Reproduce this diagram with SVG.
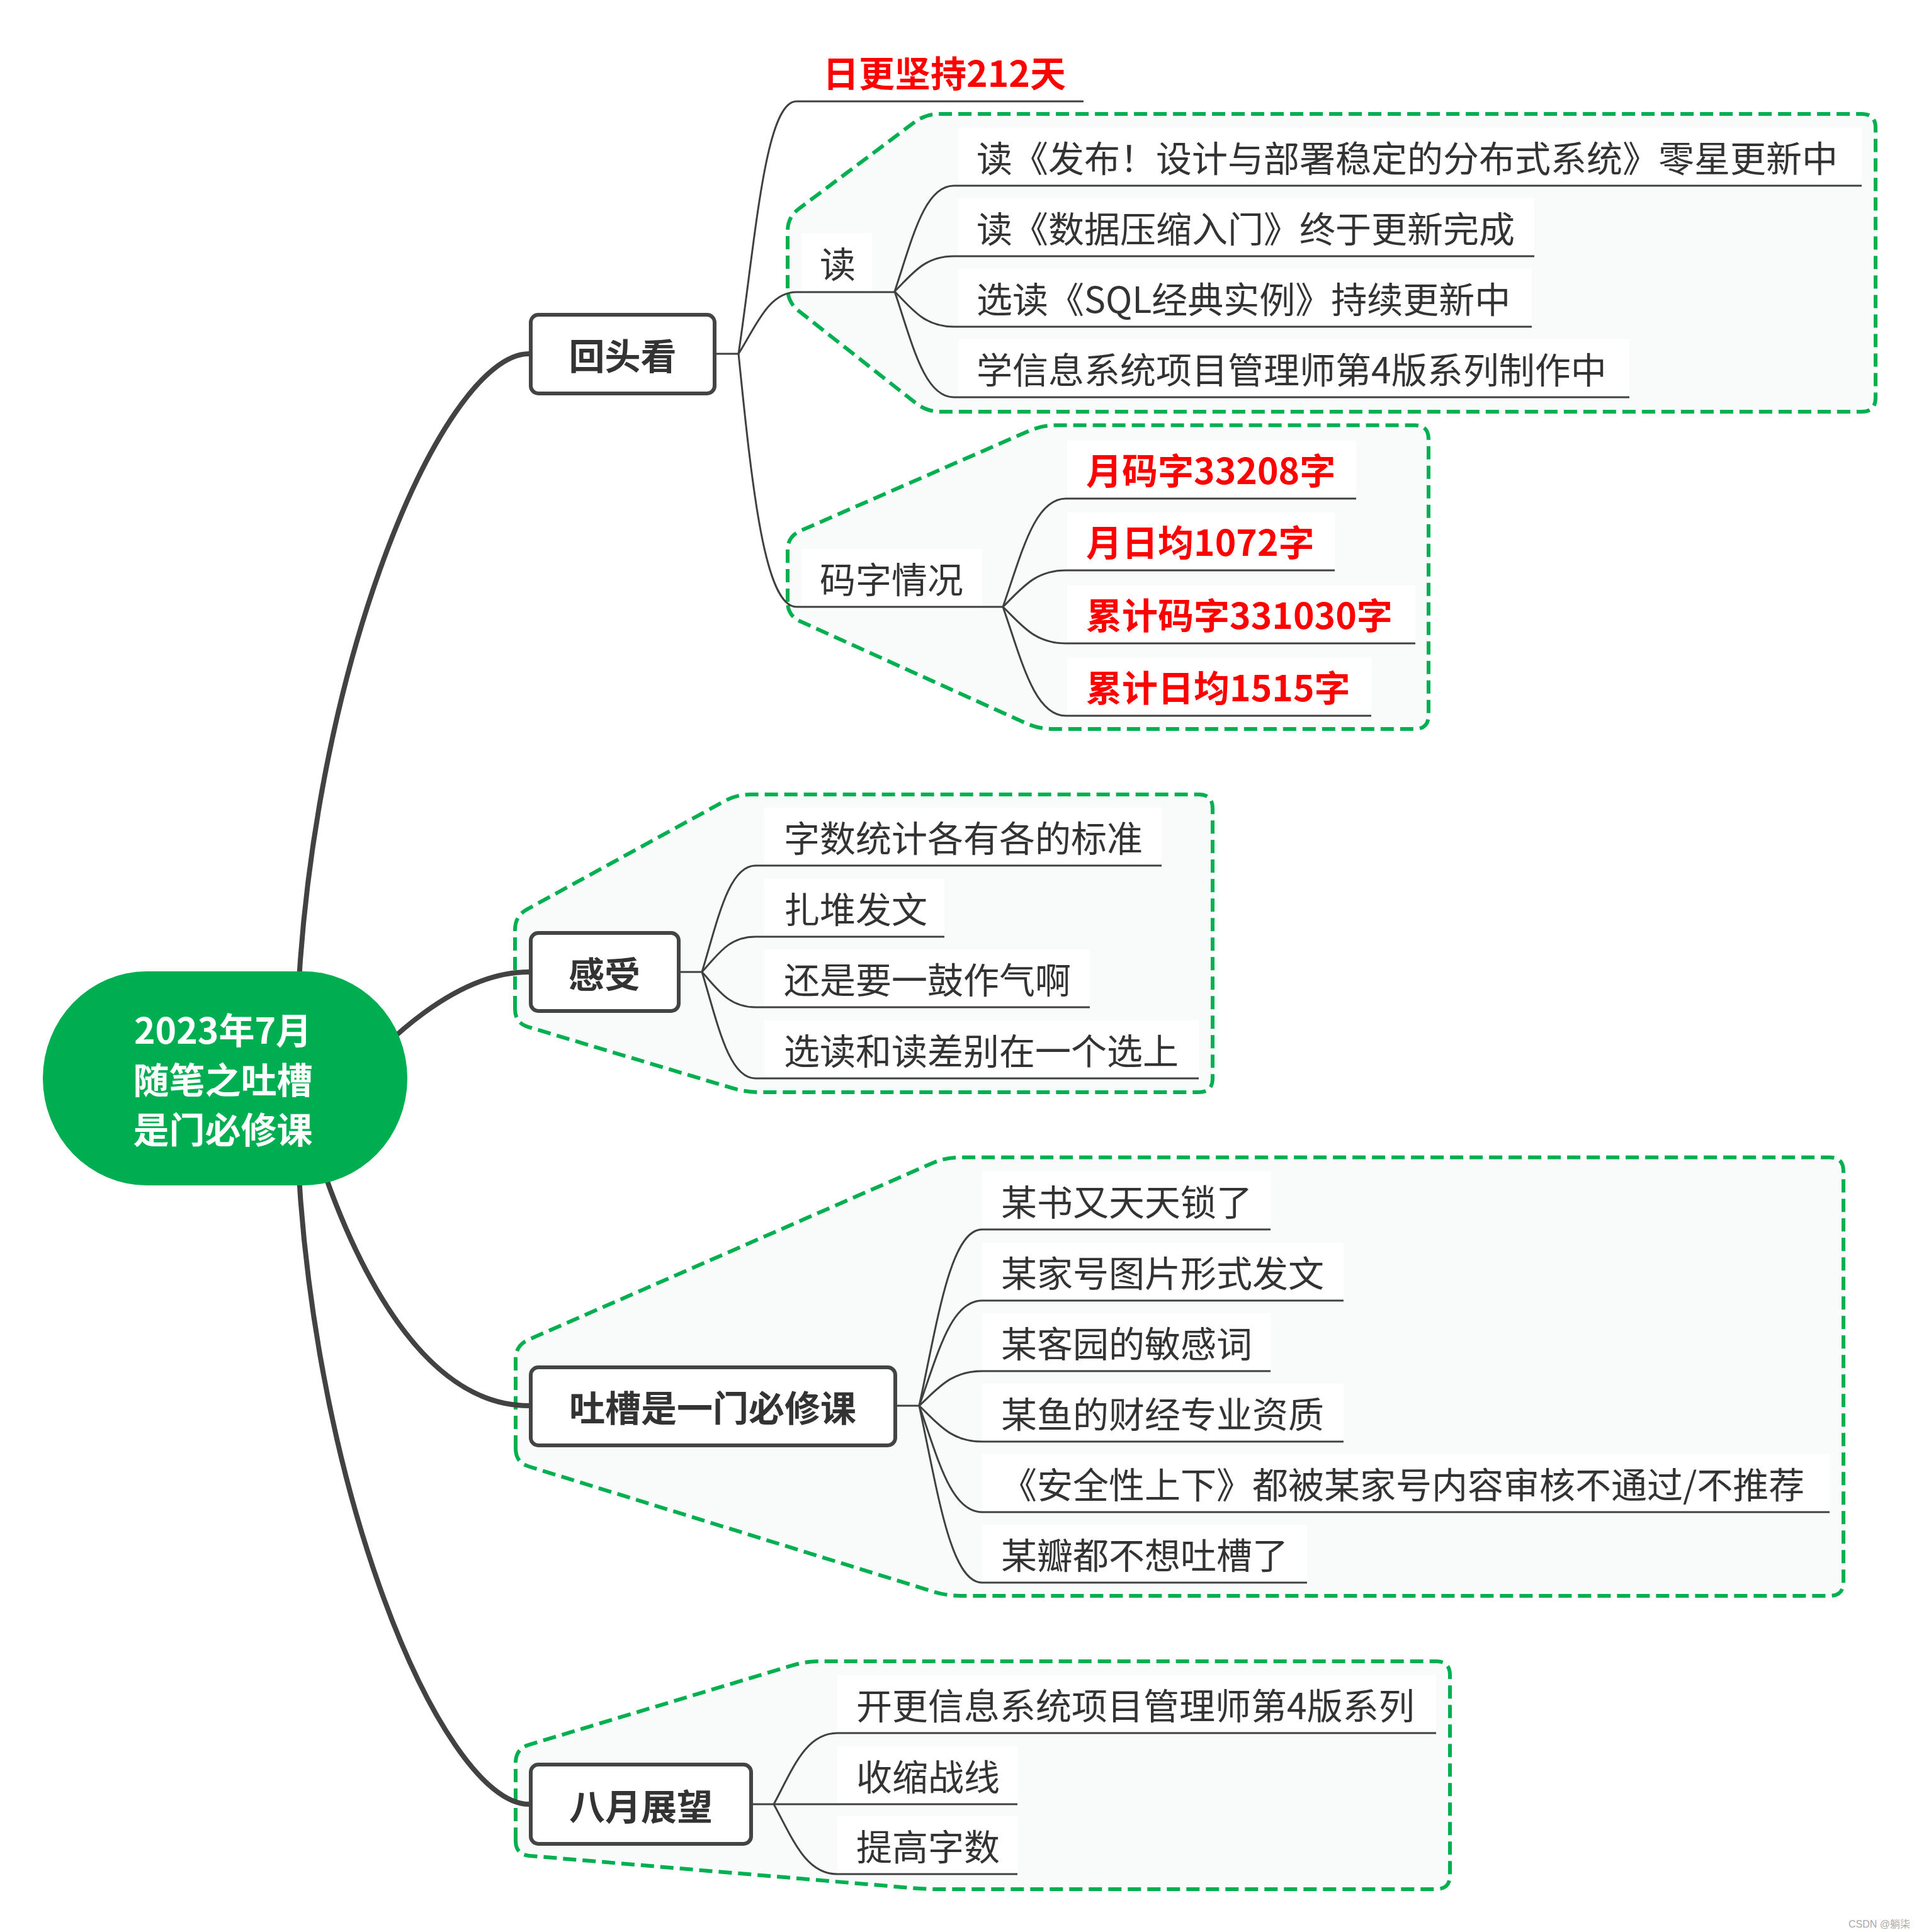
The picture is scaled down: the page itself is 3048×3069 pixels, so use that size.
<svg xmlns="http://www.w3.org/2000/svg" width="3048" height="3069" viewBox="0 0 3048 3069">
<style>
.t{font-family:"Noto Sans CJK SC","Noto Sans",sans-serif;font-size:57px;fill:#333333}
.b{font-weight:bold}
.red{fill:#ff0000;font-weight:bold}
.w{fill:#ffffff;font-weight:bold}
.bg{fill:#ffffff}
.box{fill:#ffffff;stroke:#444444;stroke-width:6}
.bound{fill:#f8fbfa;stroke:#00b050;stroke-width:6;stroke-dasharray:21 10}
.sub{fill:none;stroke:#404040;stroke-width:3}
.main{fill:none;stroke:#424242;stroke-width:8}
.mark{font-family:"Liberation Sans","Noto Sans CJK SC",sans-serif;font-size:16px;fill:#aaaaaa}
</style>
<rect width="3048" height="3069" fill="#ffffff"/>
<g id="boundaries">
<path class="bound" d="M 1251 458 L 1251 367 Q 1251 345 1268.6 331.8 L 1452.4 194.2 Q 1470 181 1492 181 L 2957 181 Q 2979 181 2979 203 L 2979 632 Q 2979 654 2957 654 L 1494 654 Q 1472 654 1454.7 640.4 L 1268.3 493.6 Q 1251 480 1251 458 Z"/>
<path class="bound" d="M 1251 956 L 1251 874 Q 1251 852 1271.2 843.2 L 1634.8 684.3 Q 1655 675.5 1677 675.5 L 2247 675.5 Q 2269 675.5 2269 697.5 L 2269 1136 Q 2269 1158 2247 1158 L 1672 1158 Q 1650 1158 1629.9 1149 L 1271.1 987 Q 1251 978 1251 956 Z"/>
<path class="bound" d="M 818 1603 L 818 1477 Q 818 1455 837.3 1444.4 L 1150.7 1272.6 Q 1170 1262 1192 1262 L 1904 1262 Q 1926 1262 1926 1284 L 1926 1713 Q 1926 1735 1904 1735 L 1207 1735 Q 1185 1735 1163.9 1728.7 L 839.1 1631.3 Q 818 1625 818 1603 Z"/>
<path class="bound" d="M 819 2301 L 819 2159 Q 819 2137 839.2 2128.2 L 1481.8 1847.3 Q 1502 1838.5 1524 1838.5 L 2906 1838.5 Q 2928 1838.5 2928 1860.5 L 2928 2513 Q 2928 2535 2906 2535 L 1526 2535 Q 1504 2535 1483 2528.5 L 840 2329.5 Q 819 2323 819 2301 Z"/>
<path class="bound" d="M 819 2924 L 819 2800 Q 819 2778 840.1 2771.6 L 1258.9 2645.4 Q 1280 2639 1302 2639 L 2281 2639 Q 2303 2639 2303 2661 L 2303 2979 Q 2303 3001 2281 3001 L 1492 3001 Q 1470 3001 1448.1 2999.1 L 840.9 2947.9 Q 819 2946 819 2924 Z"/>
</g>
<g id="n-rigeng"><text class="t red" x="1307" y="138">日更坚持212天</text></g>
<g id="n-du"><rect class="bg" x="1273" y="371" width="112" height="92"/><text class="t" x="1302" y="441">读</text></g>
<g id="n-du1"><rect class="bg" x="1522" y="203" width="1435" height="92"/><text class="t" x="1551" y="273">读《发布！设计与部署稳定的分布式系统》零星更新中</text></g>
<g id="n-du2"><rect class="bg" x="1522" y="315" width="915" height="92"/><text class="t" x="1551" y="385">读《数据压缩入门》终于更新完成</text></g>
<g id="n-du3"><rect class="bg" x="1522" y="427" width="911" height="92"/><text class="t" x="1551" y="497">选读《SQL经典实例》持续更新中</text></g>
<g id="n-du4"><rect class="bg" x="1522" y="539" width="1066" height="92"/><text class="t" x="1551" y="609">学信息系统项目管理师第4版系列制作中</text></g>
<g id="n-mazi"><rect class="bg" x="1273" y="872" width="287" height="92"/><text class="t" x="1302" y="942">码字情况</text></g>
<g id="n-mazi1"><rect class="bg" x="1695" y="700" width="459" height="92"/><text class="t red" x="1725" y="769">月码字33208字</text></g>
<g id="n-mazi2"><rect class="bg" x="1695" y="814" width="425" height="92"/><text class="t red" x="1725" y="883">月日均1072字</text></g>
<g id="n-mazi3"><rect class="bg" x="1695" y="930" width="553" height="92"/><text class="t red" x="1725" y="999">累计码字331030字</text></g>
<g id="n-mazi4"><rect class="bg" x="1695" y="1045" width="483" height="92"/><text class="t red" x="1725" y="1114">累计日均1515字</text></g>
<g id="n-gs1"><rect class="bg" x="1214" y="1283" width="631" height="92"/><text class="t" x="1245" y="1353">字数统计各有各的标准</text></g>
<g id="n-gs2"><rect class="bg" x="1214" y="1396" width="286" height="92"/><text class="t" x="1245" y="1466">扎堆发文</text></g>
<g id="n-gs3"><rect class="bg" x="1214" y="1508" width="517" height="92"/><text class="t" x="1245" y="1578">还是要一鼓作气啊</text></g>
<g id="n-gs4"><rect class="bg" x="1214" y="1621" width="690" height="92"/><text class="t" x="1245" y="1691">选读和读差别在一个选上</text></g>
<g id="n-tc1"><rect class="bg" x="1560" y="1861" width="458" height="92"/><text class="t" x="1590" y="1931">某书又天天锁了</text></g>
<g id="n-tc2"><rect class="bg" x="1560" y="1974" width="574" height="92"/><text class="t" x="1590" y="2044">某家号图片形式发文</text></g>
<g id="n-tc3"><rect class="bg" x="1560" y="2086" width="458" height="92"/><text class="t" x="1590" y="2156">某客园的敏感词</text></g>
<g id="n-tc4"><rect class="bg" x="1560" y="2198" width="574" height="92"/><text class="t" x="1590" y="2268">某鱼的财经专业资质</text></g>
<g id="n-tc5"><rect class="bg" x="1560" y="2310" width="1346" height="92"/><text class="t" x="1590" y="2380">《安全性上下》都被某家号内容审核不通过/不推荐</text></g>
<g id="n-tc6"><rect class="bg" x="1560" y="2422" width="516" height="92"/><text class="t" x="1590" y="2492">某瓣都不想吐槽了</text></g>
<g id="n-by1"><rect class="bg" x="1330" y="2661" width="951" height="92"/><text class="t" x="1360" y="2731">开更信息系统项目管理师第4版系列</text></g>
<g id="n-by2"><rect class="bg" x="1330" y="2774" width="286" height="92"/><text class="t" x="1360" y="2844">收缩战线</text></g>
<g id="n-by3"><rect class="bg" x="1330" y="2885" width="286" height="92"/><text class="t" x="1360" y="2955">提高字数</text></g>
<g id="connectors">
<path class="main" d="M 470 1713 C 470 1100, 700 562, 840 562"/>
<path class="main" d="M 560 1713 C 610 1660, 720 1544, 840 1544"/>
<path class="main" d="M 470 1713 C 530 1950, 650 2233, 840 2233"/>
<path class="main" d="M 470 1713 C 470 2326, 700 2866, 840 2866"/>
<path class="sub" d="M 1138 562 H 1173"/>
<path class="sub" d="M 1173 562 C 1200 380, 1215 161, 1265 161 H 1721"/>
<path class="sub" d="M 1173 562 C 1200 520, 1220 464, 1265 464 H 1421"/>
<path class="sub" d="M 1173 562 C 1195 780, 1215 964, 1265 964 H 1593"/>
<path class="sub" d="M 1421 463 C 1449.2 379, 1468 295, 1515 295 H 2957"/>
<path class="sub" d="M 1421 463 C 1449.2 435, 1468 407, 1515 407 H 2437"/>
<path class="sub" d="M 1421 463 C 1449.2 491, 1468 519, 1515 519 H 2433"/>
<path class="sub" d="M 1421 463 C 1449.2 547, 1468 631, 1515 631 H 2588"/>
<path class="sub" d="M 1593 964 C 1623 878, 1643 792, 1693 792 H 2154"/>
<path class="sub" d="M 1593 964 C 1623 935, 1643 906, 1693 906 H 2120"/>
<path class="sub" d="M 1593 964 C 1623 993, 1643 1022, 1693 1022 H 2248"/>
<path class="sub" d="M 1593 964 C 1623 1050.5, 1643 1137, 1693 1137 H 2178"/>
<path class="sub" d="M 1081 1544 H 1115"/>
<path class="sub" d="M 1115 1544 C 1140.5 1459.5, 1157.5 1375, 1200 1375 H 1845"/>
<path class="sub" d="M 1115 1544 C 1140.5 1516, 1157.5 1488, 1200 1488 H 1500"/>
<path class="sub" d="M 1115 1544 C 1140.5 1572, 1157.5 1600, 1200 1600 H 1731"/>
<path class="sub" d="M 1115 1544 C 1140.5 1628.5, 1157.5 1713, 1200 1713 H 1904"/>
<path class="sub" d="M 1425 2233 H 1460"/>
<path class="sub" d="M 1460 2233 C 1490 2093, 1510 1953, 1560 1953 H 2018"/>
<path class="sub" d="M 1460 2233 C 1490 2149.5, 1510 2066, 1560 2066 H 2134"/>
<path class="sub" d="M 1460 2233 C 1490 2205.5, 1510 2178, 1560 2178 H 2018"/>
<path class="sub" d="M 1460 2233 C 1490 2261.5, 1510 2290, 1560 2290 H 2134"/>
<path class="sub" d="M 1460 2233 C 1490 2317.5, 1510 2402, 1560 2402 H 2906"/>
<path class="sub" d="M 1460 2233 C 1490 2373.5, 1510 2514, 1560 2514 H 2076"/>
<path class="sub" d="M 1196 2866 H 1229"/>
<path class="sub" d="M 1229 2866 C 1259.3 2809.5, 1279.5 2753, 1330 2753 H 2281"/>
<path class="sub" d="M 1229 2866 H 1616"/>
<path class="sub" d="M 1229 2866 C 1259.3 2921.5, 1279.5 2977, 1330 2977 H 1616"/>
</g>
<g id="n-huitoukan"><rect class="box" x="843" y="500" width="292" height="125" rx="12"/><text class="t b" x="989" y="587" text-anchor="middle">回头看</text></g>
<g id="n-ganshou"><rect class="box" x="843" y="1482" width="235" height="124" rx="12"/><text class="t b" x="960" y="1569" text-anchor="middle">感受</text></g>
<g id="n-tucao"><rect class="box" x="843" y="2172" width="579" height="124" rx="12"/><text class="t b" x="1132" y="2258" text-anchor="middle">吐槽是一门必修课</text></g>
<g id="n-bayue"><rect class="box" x="843" y="2803" width="350" height="126" rx="12"/><text class="t b" x="1018" y="2891" text-anchor="middle">八月展望</text></g>
<g id="n-center"><rect x="68" y="1543" width="579" height="340" rx="165" ry="170" fill="#00ae52"/>
<text class="t w" x="354" y="1658" text-anchor="middle">2023年7月</text>
<text class="t w" x="354" y="1737" text-anchor="middle">随笔之吐槽</text>
<text class="t w" x="354" y="1816" text-anchor="middle">是门必修课</text></g>
<text class="mark" x="3034" y="3062" text-anchor="end">CSDN @躺柒</text>
</svg>
